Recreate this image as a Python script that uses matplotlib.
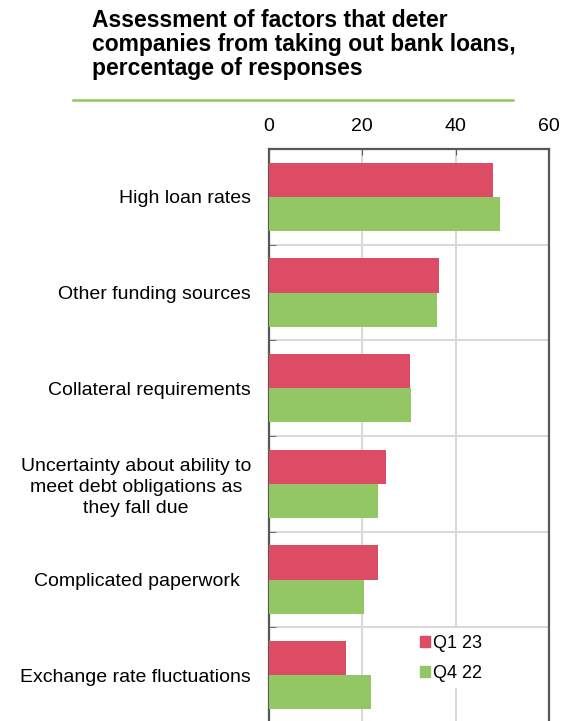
import matplotlib
matplotlib.use("Agg")
import matplotlib.pyplot as plt
import numpy as np
from matplotlib.lines import Line2D
from matplotlib.patches import Patch, Rectangle

plt.rcParams['font.family'] = ['Liberation Sans', 'DejaVu Sans']

categories = [
    "High loan rates",
    "Other funding sources",
    "Collateral requirements",
    "Uncertainty about ability to\nmeet debt obligations as\nthey fall due",
    "Complicated paperwork  ",
    "Exchange rate fluctuations",
]
q1_23 = [48.0, 36.4, 30.2, 25.1, 23.4, 16.4]
q4_22 = [49.4, 36.1, 30.4, 23.3, 20.4, 21.9]
series_labels = ["Q1 23", "Q4 22"]
x_ticks = [0, 20, 40, 60]

red = "#dc4c64"
green = "#93c763"

W, H = 563, 721
fig = plt.figure(figsize=(W / 100, H / 100), dpi=100)
ax = fig.add_axes([269 / W, -2 / H, 280 / W, 574 / H])

y = np.arange(len(categories))
h = 0.358
ax.barh(y - h / 2, q1_23, height=h, color=red, zorder=3)
ax.barh(y + h / 2, q4_22, height=h, color=green, zorder=3)

ax.set_xlim(0, 60)
ax.set_ylim(len(categories) - 0.5, -0.5)
ax.set_xticks(x_ticks)
ax.xaxis.tick_top()
ax.tick_params(axis='x', direction='in', length=4, color='#595959',
               labelsize=14, pad=10, labelcolor='black')
ax.set_yticks(y)
ax.set_yticklabels(categories, fontsize=14, multialignment='center')
for lab in ax.get_yticklabels():
    lab.set_linespacing(1.3)
ax.tick_params(axis='y', which='major', length=0, pad=13)
ax.set_yticks(np.arange(len(categories) + 1) - 0.5, minor=True)
ax.tick_params(axis='y', which='minor', direction='in', length=5, color='#595959')
ax.grid(axis='x', which='major', color='#d9d9d9', linewidth=1.5, zorder=0)
ax.grid(axis='y', which='minor', color='#d9d9d9', linewidth=1.5, zorder=0)
for s in ax.spines.values():
    s.set_color('#595959')
    s.set_linewidth(1.6)

# white box behind the legend, hiding the gridlines
ax.add_patch(Rectangle((0.425, 0.061), 0.461, 0.1045, transform=ax.transAxes,
                       facecolor='white', edgecolor='none', zorder=2))
handles = [Patch(color=red), Patch(color=green)]
leg = ax.legend(handles, series_labels, loc='upper left',
                bbox_to_anchor=(0.539, 0.153), frameon=False, fontsize=13,
                handlelength=0.55, handleheight=0.55, handletextpad=0.2,
                labelspacing=0.7, borderpad=0, borderaxespad=0)
leg.set_zorder(5)

# va='baseline' pins the baseline of the last line
fig.text(92 / W, 1 - 75.5 / H,
         "Assessment of factors that deter\ncompanies from taking out bank loans,\npercentage of responses",
         ha='left', va='baseline', fontsize=16.5, fontweight='bold', linespacing=1.08)
fig.add_artist(Line2D([73 / W, 513 / W], [1 - 99.5 / H, 1 - 99.5 / H],
                      color=green, linewidth=1.8, transform=fig.transFigure))

fig.savefig("out.png", dpi=100)
